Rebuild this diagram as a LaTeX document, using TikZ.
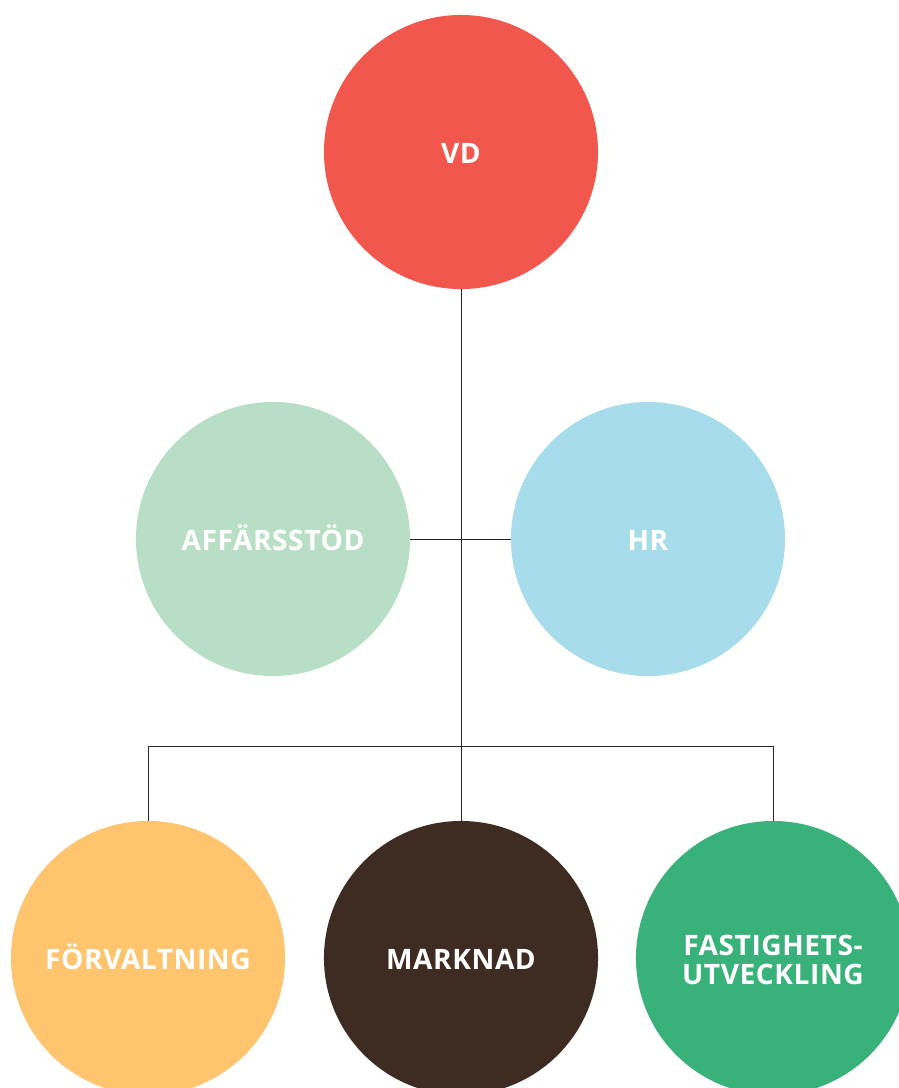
\documentclass[tikz,border=0pt]{standalone}
\usepackage{fontspec}
\setmainfont{Open Sans}[LetterSpace=2]
\usetikzlibrary{positioning}

\definecolor{vdred}{HTML}{F2574D}
\definecolor{supportgreen}{HTML}{B8DFC6}
\definecolor{hrblue}{HTML}{A7DDEB}
\definecolor{mgmtorange}{HTML}{FFC46E}
\definecolor{marketbrown}{HTML}{3E2B21}
\definecolor{devgreen}{HTML}{38B27A}

\newcommand{\unitfont}{\bfseries\fontsize{20pt}{20pt}\selectfont}

\tikzset{
  unit/.style={circle, minimum size=6.85cm, inner sep=0pt, text=white, font=\unitfont, align=center, text height=17pt, text depth=0pt},
  orgline/.style={draw=black!85, line width=0.7pt}
}

\begin{document}
\begin{tikzpicture}[x=0.025cm,y=-0.025cm]
\clip (0,0) rectangle (899,1088);
\useasboundingbox (0,0) rectangle (899,1088);

% top
\node[unit, fill=vdred, name=vd] at (461,152) {VD};

% staff units
\node[unit, fill=supportgreen, name=support] at (273,539) {AFFÄRSSTÖD};
\node[unit, fill=hrblue, name=hr] at (648,539) {HR};

% business units
\node[unit, fill=mgmtorange, name=mgmt] at (148,958) {FÖRVALTNING};
\node[unit, fill=marketbrown, name=market] at (461,958) {MARKNAD};
\node[unit, fill=devgreen, name=dev, text height=37pt] at (773,958) {FASTIGHETS-\\UTVECKLING};

% lines
\coordinate (split) at (461,746);
\draw[orgline] (vd) -- (market);
\draw[orgline] (support) -- (hr);
\draw[orgline] (mgmt.north) |- (split) -| (dev.north);
\end{tikzpicture}
\end{document}
